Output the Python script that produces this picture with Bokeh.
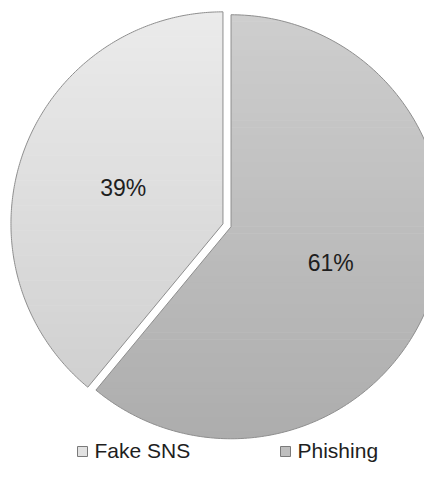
import numpy as np
from bokeh.plotting import figure
from bokeh.models import Range1d
from bokeh.core.properties import value
from bokeh.embed import file_html
from bokeh.resources import INLINE

# ---- data ----
categories = ["Fake SNS", "Phishing"]
shares = [39, 61]
labels = ["39%", "61%"]
top_colors = ["#ebebeb", "#cecece"]
bottom_colors = ["#d0d0d0", "#adadad"]
legend_colors = ["#e2e2e2", "#bebebe"]

# ---- layout ----
W, H = 424, 463
CX, CY = 226.5, 238.2      # pie centre (data units = px)
R = 212.0
EXPLODE = 4.3
N_BANDS = 60

p = figure(width=W, height=H, output_backend="svg", toolbar_location=None,
           x_range=Range1d(0, W), y_range=Range1d(0, H),
           x_axis_type=None, y_axis_type=None, min_border=0,
           min_border_left=0, min_border_right=0, min_border_top=0, min_border_bottom=0)
p.grid.visible = False
p.outline_line_color = None
p.background_fill_color = "white"
p.border_fill_color = "white"


def hex2rgb(h):
    h = h.lstrip("#")
    return np.array([int(h[i:i + 2], 16) for i in (0, 2, 4)], dtype=float)


def mix(c0, c1, t):
    c = hex2rgb(c0) * (1 - t) + hex2rgb(c1) * t
    return "#%02x%02x%02x" % tuple(int(round(v)) for v in c)


def clip_poly(poly, keep, y0):
    out = []
    n = len(poly)
    for i in range(n):
        cur, prev = poly[i], poly[i - 1]
        kc, kp = keep(cur), keep(prev)
        if kc:
            if not kp:
                t = (y0 - prev[1]) / (cur[1] - prev[1])
                out.append((prev[0] + (cur[0] - prev[0]) * t, y0))
            out.append(cur)
        elif kp:
            t = (y0 - prev[1]) / (cur[1] - prev[1])
            out.append((prev[0] + (cur[0] - prev[0]) * t, y0))
    return out


# slices drawn clockwise from 12 o'clock: Phishing first, then Fake SNS
order = [1, 0]
total = float(sum(shares))
angle = np.pi / 2
for idx in order:
    sweep = 2 * np.pi * shares[idx] / total
    a0, a1 = angle, angle - sweep
    mid = (a0 + a1) / 2
    ox = CX + EXPLODE * np.cos(mid)
    oy = CY + EXPLODE * np.sin(mid)
    th = np.linspace(a0, a1, 240)
    xs = [ox] + list(ox + R * np.cos(th))
    ys = [oy] + list(oy + R * np.sin(th))
    poly = list(zip(xs, ys))
    ymax, ymin = max(ys), min(ys)
    edges = np.linspace(ymax, ymin, N_BANDS + 1)
    bxs, bys, bcols = [], [], []
    for b in range(N_BANDS):
        hi = edges[b] + 0.6
        lo = edges[b + 1]
        part = clip_poly(poly, lambda q, hi=hi: q[1] <= hi, hi)
        if len(part) < 3:
            continue
        part = clip_poly(part, lambda q, lo=lo: q[1] >= lo, lo)
        if len(part) < 3:
            continue
        t = (b + 0.5) / N_BANDS
        bxs.append([q[0] for q in part])
        bys.append([q[1] for q in part])
        bcols.append(mix(top_colors[idx], bottom_colors[idx], t))
    p.patches(bxs, bys, fill_color=bcols, line_color=None)
    p.patch(xs + [xs[0]], ys + [ys[0]], fill_color=None, line_color="#8e8e8e", line_width=1)
    lx = ox + 0.5 * R * np.cos(mid)
    ly = oy + 0.5 * R * np.sin(mid)
    p.text(x=[lx], y=[ly], text=[labels[idx]], text_align="center", text_baseline="middle",
           text_font=value("Liberation Sans"), text_font_size="23px", text_color="#1e1e1e")
    angle = a1

# legend (below the pie)
leg_x = [82.0, 285.0]
leg_y = 12.0
p.scatter(x=leg_x, y=[leg_y] * 2, marker="square", size=10,
          fill_color=legend_colors, line_color="#7a7a7a", line_width=1)
p.text(x=[x + 12 for x in leg_x], y=[leg_y + 1.0] * 2, text=categories,
       text_align="left", text_baseline="middle",
       text_font=value("Liberation Sans"), text_font_size="21px", text_color="#1e1e1e")

open("out.html", "w").write(file_html(p, INLINE))
